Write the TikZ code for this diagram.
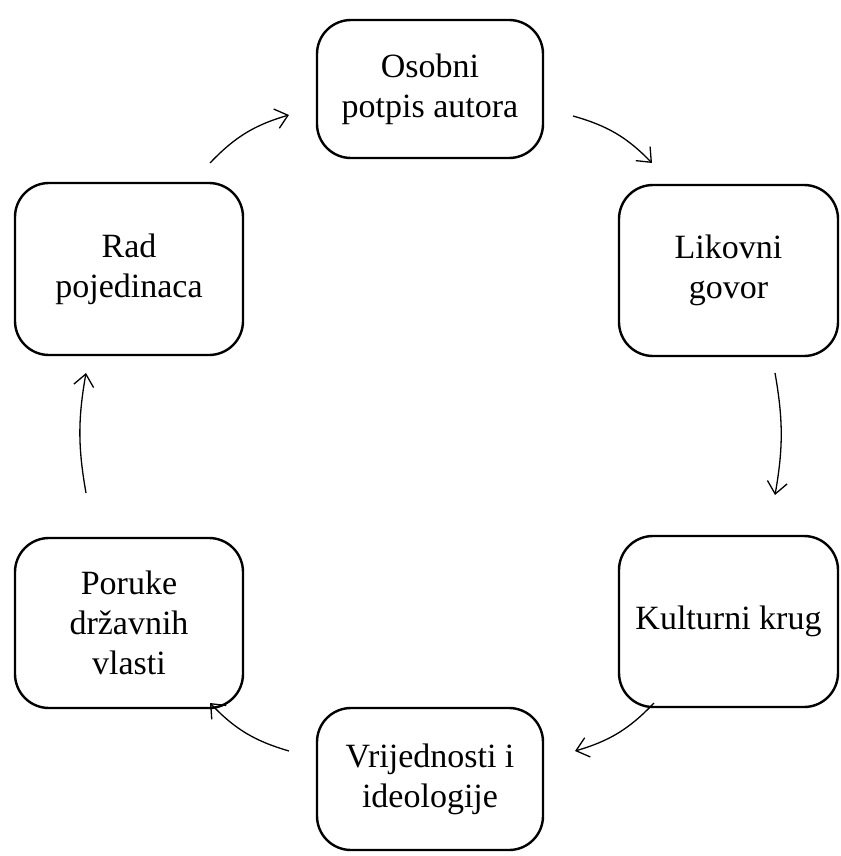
\documentclass[tikz,border=0pt]{standalone}
\usepackage{fontspec}
\setmainfont{Liberation Serif}
\usetikzlibrary{arrows.meta}
\begin{document}
\begin{tikzpicture}[x=1pt,y=-1pt,
  box/.style={draw, line width=2.4pt, rounded corners=34pt, align=center,
    inner sep=0pt, font=\fontsize{34}{40}\selectfont},
  flow/.style={line width=1.3pt, -{Straight Barb[length=12pt,width=20pt,line width=1.3pt]}}]
\useasboundingbox (0,0) rectangle (840,856);
\node[box, minimum width=226pt, minimum height=138pt] (A) at (430,89) {Osobni\\potpis autora};
\node[box, minimum width=219pt, minimum height=171pt] (B) at (728.5,270.5) {Likovni\\govor};
\node[box, minimum width=219pt, minimum height=171pt] (C) at (728.5,621.5) {Kulturni krug};
\node[box, minimum width=226pt, minimum height=142pt] (D) at (430,779) {Vrijednosti i\\ideologije};
\node[box, minimum width=228pt, minimum height=170pt] (E) at (129,623) {Poruke\\državnih\\vlasti};
\node[box, minimum width=228pt, minimum height=172pt] (F) at (129,269) {Rad\\pojedinaca};
\coordinate (a1) at (573,116); \coordinate (b1) at (652,163);
\coordinate (b2) at (775,373); \coordinate (c2) at (775,495);
\coordinate (c3) at (654,703); \coordinate (d3) at (575,751);
\coordinate (d4) at (289,751); \coordinate (e4) at (210,703);
\coordinate (e5) at (86,493); \coordinate (f5) at (86,373);
\coordinate (f6) at (210,163); \coordinate (a6) at (289,115);
\draw[flow] (a1) to[bend left=15] (b1);
\draw[flow] (b2) to[bend left=10] (c2);
\draw[flow] (c3) to[bend left=15] (d3);
\draw[flow] (d4) to[bend left=15] (e4);
\draw[flow] (e5) to[bend left=10] (f5);
\draw[flow] (f6) to[bend left=15] (a6);
\end{tikzpicture}
\end{document}
